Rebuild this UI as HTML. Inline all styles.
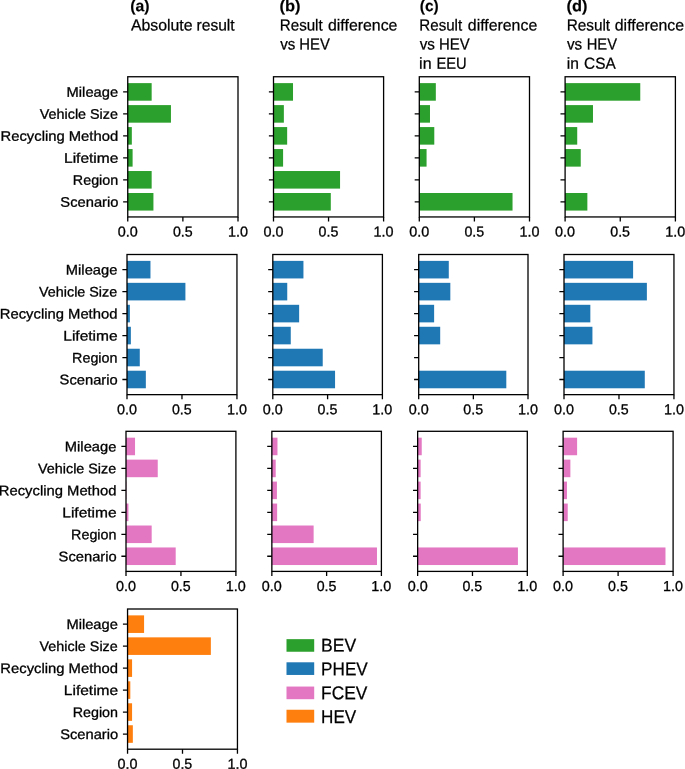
<!DOCTYPE html>
<html lang="en"><head><meta charset="utf-8"><title>Figure</title>
<style>
html,body{margin:0;padding:0;background:#fff;}
body{width:685px;height:769px;overflow:hidden;}
svg{display:block;will-change:transform;}
text{font-family:"Liberation Sans",sans-serif;fill:#000;}
.t{font-size:13.9px;stroke:#000;stroke-width:0.3px;}
.x{font-size:14.4px;}
.h{font-size:16px;stroke:#000;stroke-width:0.25px;}
.hb{font-size:16px;font-weight:bold;stroke:#000;stroke-width:0.15px;}
.lg{font-size:18.5px;stroke:#000;stroke-width:0.25px;}
</style></head><body>
<svg width="685" height="769" viewBox="0 0 685 769">
<g>
<rect x="127.75" y="83.12" width="23.91" height="17.58" fill="#2ca02c"/>
<rect x="127.75" y="105.1" width="43.2" height="17.58" fill="#2ca02c"/>
<rect x="127.75" y="127.07" width="4.08" height="17.58" fill="#2ca02c"/>
<rect x="127.75" y="149.05" width="4.85" height="17.58" fill="#2ca02c"/>
<rect x="127.75" y="171.02" width="23.91" height="17.58" fill="#2ca02c"/>
<rect x="127.75" y="193" width="25.68" height="17.58" fill="#2ca02c"/>
<path d="M123.13 91.91h4.62M123.13 113.89h4.62M123.13 135.86h4.62M123.13 157.84h4.62M123.13 179.81h4.62M123.13 201.79h4.62M127.75 216.95v4.62M182.88 216.95v4.62M238 216.95v4.62" stroke="#000" stroke-width="1.3" fill="none"/>
<rect x="127.75" y="76.75" width="110.25" height="140.2" fill="none" stroke="#000" stroke-width="1.3"/>
</g>
<g>
<rect x="273.5" y="83.12" width="19.51" height="17.58" fill="#2ca02c"/>
<rect x="273.5" y="105.1" width="10.36" height="17.58" fill="#2ca02c"/>
<rect x="273.5" y="127.07" width="13.66" height="17.58" fill="#2ca02c"/>
<rect x="273.5" y="149.05" width="9.59" height="17.58" fill="#2ca02c"/>
<rect x="273.5" y="171.02" width="66.56" height="17.58" fill="#2ca02c"/>
<rect x="273.5" y="193" width="57.3" height="17.58" fill="#2ca02c"/>
<path d="M268.88 91.91h4.62M268.88 113.89h4.62M268.88 135.86h4.62M268.88 157.84h4.62M268.88 179.81h4.62M268.88 201.79h4.62M273.5 216.95v4.62M328.55 216.95v4.62M383.6 216.95v4.62" stroke="#000" stroke-width="1.3" fill="none"/>
<rect x="273.5" y="76.75" width="110.1" height="140.2" fill="none" stroke="#000" stroke-width="1.3"/>
</g>
<g>
<rect x="419.3" y="83.12" width="16.53" height="17.58" fill="#2ca02c"/>
<rect x="419.3" y="105.1" width="10.69" height="17.58" fill="#2ca02c"/>
<rect x="419.3" y="127.07" width="14.99" height="17.58" fill="#2ca02c"/>
<rect x="419.3" y="149.05" width="7.27" height="17.58" fill="#2ca02c"/>
<rect x="419.3" y="193" width="93.23" height="17.58" fill="#2ca02c"/>
<path d="M414.68 91.91h4.62M414.68 113.89h4.62M414.68 135.86h4.62M414.68 157.84h4.62M414.68 179.81h4.62M414.68 201.79h4.62M419.3 216.95v4.62M474.4 216.95v4.62M529.5 216.95v4.62" stroke="#000" stroke-width="1.3" fill="none"/>
<rect x="419.3" y="76.75" width="110.2" height="140.2" fill="none" stroke="#000" stroke-width="1.3"/>
</g>
<g>
<rect x="565.1" y="83.12" width="75.16" height="17.58" fill="#2ca02c"/>
<rect x="565.1" y="105.1" width="27.88" height="17.58" fill="#2ca02c"/>
<rect x="565.1" y="127.07" width="12.12" height="17.58" fill="#2ca02c"/>
<rect x="565.1" y="149.05" width="15.65" height="17.58" fill="#2ca02c"/>
<rect x="565.1" y="193" width="22.26" height="17.58" fill="#2ca02c"/>
<path d="M560.48 91.91h4.62M560.48 113.89h4.62M560.48 135.86h4.62M560.48 157.84h4.62M560.48 179.81h4.62M560.48 201.79h4.62M565.1 216.95v4.62M620.25 216.95v4.62M675.4 216.95v4.62" stroke="#000" stroke-width="1.3" fill="none"/>
<rect x="565.1" y="76.75" width="110.3" height="140.2" fill="none" stroke="#000" stroke-width="1.3"/>
</g>
<g>
<rect x="127" y="260.87" width="23.47" height="17.57" fill="#1f77b4"/>
<rect x="127" y="282.84" width="58.41" height="17.57" fill="#1f77b4"/>
<rect x="127" y="304.8" width="2.87" height="17.57" fill="#1f77b4"/>
<rect x="127" y="326.77" width="3.86" height="17.57" fill="#1f77b4"/>
<rect x="127" y="348.74" width="12.78" height="17.57" fill="#1f77b4"/>
<rect x="127" y="370.71" width="18.84" height="17.57" fill="#1f77b4"/>
<path d="M122.38 269.66h4.62M122.38 291.62h4.62M122.38 313.59h4.62M122.38 335.56h4.62M122.38 357.53h4.62M122.38 379.49h4.62M127 394.65v4.62M181.97 394.65v4.62M236.95 394.65v4.62" stroke="#000" stroke-width="1.3" fill="none"/>
<rect x="127" y="254.5" width="109.95" height="140.15" fill="none" stroke="#000" stroke-width="1.3"/>
</g>
<g>
<rect x="272.8" y="260.87" width="30.64" height="17.57" fill="#1f77b4"/>
<rect x="272.8" y="282.84" width="14.44" height="17.57" fill="#1f77b4"/>
<rect x="272.8" y="304.8" width="26.34" height="17.57" fill="#1f77b4"/>
<rect x="272.8" y="326.77" width="17.96" height="17.57" fill="#1f77b4"/>
<rect x="272.8" y="348.74" width="49.92" height="17.57" fill="#1f77b4"/>
<rect x="272.8" y="370.71" width="62.26" height="17.57" fill="#1f77b4"/>
<path d="M268.18 269.66h4.62M268.18 291.62h4.62M268.18 313.59h4.62M268.18 335.56h4.62M268.18 357.53h4.62M268.18 379.49h4.62M272.8 394.65v4.62M327.6 394.65v4.62M382.4 394.65v4.62" stroke="#000" stroke-width="1.3" fill="none"/>
<rect x="272.8" y="254.5" width="109.6" height="140.15" fill="none" stroke="#000" stroke-width="1.3"/>
</g>
<g>
<rect x="418.7" y="260.87" width="30.08" height="17.57" fill="#1f77b4"/>
<rect x="418.7" y="282.84" width="31.63" height="17.57" fill="#1f77b4"/>
<rect x="418.7" y="304.8" width="15.43" height="17.57" fill="#1f77b4"/>
<rect x="418.7" y="326.77" width="21.49" height="17.57" fill="#1f77b4"/>
<rect x="418.7" y="370.71" width="87.61" height="17.57" fill="#1f77b4"/>
<path d="M414.08 269.66h4.62M414.08 291.62h4.62M414.08 313.59h4.62M414.08 335.56h4.62M414.08 357.53h4.62M414.08 379.49h4.62M418.7 394.65v4.62M473.35 394.65v4.62M528 394.65v4.62" stroke="#000" stroke-width="1.3" fill="none"/>
<rect x="418.7" y="254.5" width="109.3" height="140.15" fill="none" stroke="#000" stroke-width="1.3"/>
</g>
<g>
<rect x="564" y="260.87" width="69.1" height="17.57" fill="#1f77b4"/>
<rect x="564" y="282.84" width="82.87" height="17.57" fill="#1f77b4"/>
<rect x="564" y="304.8" width="26.34" height="17.57" fill="#1f77b4"/>
<rect x="564" y="326.77" width="28.43" height="17.57" fill="#1f77b4"/>
<rect x="564" y="370.71" width="80.78" height="17.57" fill="#1f77b4"/>
<path d="M559.38 269.66h4.62M559.38 291.62h4.62M559.38 313.59h4.62M559.38 335.56h4.62M559.38 357.53h4.62M559.38 379.49h4.62M564 394.65v4.62M618.98 394.65v4.62M673.95 394.65v4.62" stroke="#000" stroke-width="1.3" fill="none"/>
<rect x="564" y="254.5" width="109.95" height="140.15" fill="none" stroke="#000" stroke-width="1.3"/>
</g>
<g>
<rect x="126" y="437.67" width="9.04" height="17.57" fill="#e377c2"/>
<rect x="126" y="459.63" width="31.74" height="17.57" fill="#e377c2"/>
<rect x="126" y="481.59" width="0.33" height="17.57" fill="#e377c2"/>
<rect x="126" y="503.55" width="2.42" height="17.57" fill="#e377c2"/>
<rect x="126" y="525.51" width="25.68" height="17.57" fill="#e377c2"/>
<rect x="126" y="547.46" width="49.7" height="17.57" fill="#e377c2"/>
<path d="M121.38 446.45h4.62M121.38 468.41h4.62M121.38 490.37h4.62M121.38 512.33h4.62M121.38 534.29h4.62M121.38 556.25h4.62M126 571.4v4.62M180.95 571.4v4.62M235.9 571.4v4.62" stroke="#000" stroke-width="1.3" fill="none"/>
<rect x="126" y="431.3" width="109.9" height="140.1" fill="none" stroke="#000" stroke-width="1.3"/>
</g>
<g>
<rect x="271.85" y="437.67" width="5.62" height="17.57" fill="#e377c2"/>
<rect x="271.85" y="459.63" width="3.86" height="17.57" fill="#e377c2"/>
<rect x="271.85" y="481.59" width="5.07" height="17.57" fill="#e377c2"/>
<rect x="271.85" y="503.55" width="5.29" height="17.57" fill="#e377c2"/>
<rect x="271.85" y="525.51" width="41.77" height="17.57" fill="#e377c2"/>
<rect x="271.85" y="547.46" width="105.13" height="17.57" fill="#e377c2"/>
<path d="M267.23 446.45h4.62M267.23 468.41h4.62M267.23 490.37h4.62M267.23 512.33h4.62M267.23 534.29h4.62M267.23 556.25h4.62M271.85 571.4v4.62M326.62 571.4v4.62M381.4 571.4v4.62" stroke="#000" stroke-width="1.3" fill="none"/>
<rect x="271.85" y="431.3" width="109.55" height="140.1" fill="none" stroke="#000" stroke-width="1.3"/>
</g>
<g>
<rect x="417.65" y="437.67" width="4.08" height="17.57" fill="#e377c2"/>
<rect x="417.65" y="459.63" width="2.98" height="17.57" fill="#e377c2"/>
<rect x="417.65" y="481.59" width="2.98" height="17.57" fill="#e377c2"/>
<rect x="417.65" y="503.55" width="3.09" height="17.57" fill="#e377c2"/>
<rect x="417.65" y="547.46" width="100.28" height="17.57" fill="#e377c2"/>
<path d="M413.03 446.45h4.62M413.03 468.41h4.62M413.03 490.37h4.62M413.03 512.33h4.62M413.03 534.29h4.62M413.03 556.25h4.62M417.65 571.4v4.62M472.47 571.4v4.62M527.3 571.4v4.62" stroke="#000" stroke-width="1.3" fill="none"/>
<rect x="417.65" y="431.3" width="109.65" height="140.1" fill="none" stroke="#000" stroke-width="1.3"/>
</g>
<g>
<rect x="563.1" y="437.67" width="14" height="17.57" fill="#e377c2"/>
<rect x="563.1" y="459.63" width="7.27" height="17.57" fill="#e377c2"/>
<rect x="563.1" y="481.59" width="3.86" height="17.57" fill="#e377c2"/>
<rect x="563.1" y="503.55" width="4.63" height="17.57" fill="#e377c2"/>
<rect x="563.1" y="547.46" width="102.38" height="17.57" fill="#e377c2"/>
<path d="M558.48 446.45h4.62M558.48 468.41h4.62M558.48 490.37h4.62M558.48 512.33h4.62M558.48 534.29h4.62M558.48 556.25h4.62M563.1 571.4v4.62M618.1 571.4v4.62M673.1 571.4v4.62" stroke="#000" stroke-width="1.3" fill="none"/>
<rect x="563.1" y="431.3" width="110" height="140.1" fill="none" stroke="#000" stroke-width="1.3"/>
</g>
<g>
<rect x="127.55" y="615.37" width="16.53" height="17.58" fill="#ff7f0e"/>
<rect x="127.55" y="637.35" width="83.31" height="17.58" fill="#ff7f0e"/>
<rect x="127.55" y="659.32" width="4.52" height="17.58" fill="#ff7f0e"/>
<rect x="127.55" y="681.3" width="2.76" height="17.58" fill="#ff7f0e"/>
<rect x="127.55" y="703.27" width="4.52" height="17.58" fill="#ff7f0e"/>
<rect x="127.55" y="725.25" width="5.29" height="17.58" fill="#ff7f0e"/>
<path d="M122.93 624.16h4.62M122.93 646.14h4.62M122.93 668.11h4.62M122.93 690.09h4.62M122.93 712.06h4.62M122.93 734.04h4.62M127.55 749.2v4.62M182.5 749.2v4.62M237.45 749.2v4.62" stroke="#000" stroke-width="1.3" fill="none"/>
<rect x="127.55" y="609" width="109.9" height="140.2" fill="none" stroke="#000" stroke-width="1.3"/>
</g>
<rect x="286.5" y="639.15" width="27.7" height="12.6" fill="#2ca02c"/>
<rect x="286.5" y="662.3" width="27.7" height="12.65" fill="#1f77b4"/>
<rect x="286.5" y="686.55" width="27.7" height="12.65" fill="#e377c2"/>
<rect x="286.5" y="709.75" width="27.7" height="12.9" fill="#ff7f0e"/>
<text class="hb" x="130.24" y="11.2" transform="rotate(0.05 130.24 11.2)" textLength="19.36" lengthAdjust="spacingAndGlyphs">(a)</text>
<text class="h" x="130.91" y="30.5" transform="rotate(0.05 130.91 30.5)" textLength="61.67" lengthAdjust="spacingAndGlyphs">Absolute</text>
<text class="h" x="196.53" y="30.5" transform="rotate(0.05 196.53 30.5)" textLength="38.12" lengthAdjust="spacingAndGlyphs">result</text>
<text class="hb" x="279.51" y="11.2" transform="rotate(0.05 279.51 11.2)" textLength="21.03" lengthAdjust="spacingAndGlyphs">(b)</text>
<text class="h" x="279.81" y="30.5" transform="rotate(0.05 279.81 30.5)" textLength="42.89" lengthAdjust="spacingAndGlyphs">Result</text>
<text class="h" x="328.02" y="30.5" transform="rotate(0.05 328.02 30.5)" textLength="69.4" lengthAdjust="spacingAndGlyphs">difference</text>
<text class="h" x="280.18" y="49.55" transform="rotate(0.05 280.18 49.55)" textLength="15.11" lengthAdjust="spacingAndGlyphs">vs</text>
<text class="h" x="299.33" y="49.55" transform="rotate(0.05 299.33 49.55)" textLength="30.57" lengthAdjust="spacingAndGlyphs">HEV</text>
<text class="hb" x="419.76" y="11.2" transform="rotate(0.05 419.76 11.2)" textLength="18.92" lengthAdjust="spacingAndGlyphs">(c)</text>
<text class="h" x="419.31" y="30.5" transform="rotate(0.05 419.31 30.5)" textLength="42.89" lengthAdjust="spacingAndGlyphs">Result</text>
<text class="h" x="467.82" y="30.5" transform="rotate(0.05 467.82 30.5)" textLength="69.4" lengthAdjust="spacingAndGlyphs">difference</text>
<text class="h" x="419.68" y="49.55" transform="rotate(0.05 419.68 49.55)" textLength="15.21" lengthAdjust="spacingAndGlyphs">vs</text>
<text class="h" x="439.02" y="49.55" transform="rotate(0.05 439.02 49.55)" textLength="30.67" lengthAdjust="spacingAndGlyphs">HEV</text>
<text class="h" x="419.1" y="68.75" transform="rotate(0.05 419.1 68.75)">in</text>
<text class="h" x="436.45" y="68.75" transform="rotate(0.05 436.45 68.75)" textLength="30.21" lengthAdjust="spacingAndGlyphs">EEU</text>
<text class="hb" x="566.52" y="11.2" transform="rotate(0.05 566.52 11.2)" textLength="20.92" lengthAdjust="spacingAndGlyphs">(d)</text>
<text class="h" x="566.69" y="30.5" transform="rotate(0.05 566.69 30.5)" textLength="43.4" lengthAdjust="spacingAndGlyphs">Result</text>
<text class="h" x="614.82" y="30.5" transform="rotate(0.05 614.82 30.5)" textLength="69.3" lengthAdjust="spacingAndGlyphs">difference</text>
<text class="h" x="566.98" y="49.55" transform="rotate(0.05 566.98 49.55)" textLength="15.21" lengthAdjust="spacingAndGlyphs">vs</text>
<text class="h" x="586.74" y="49.55" transform="rotate(0.05 586.74 49.55)" textLength="30.25" lengthAdjust="spacingAndGlyphs">HEV</text>
<text class="h" x="566.83" y="68.75" transform="rotate(0.05 566.83 68.75)" textLength="12.12" lengthAdjust="spacingAndGlyphs">in</text>
<text class="h" x="584.05" y="68.75" transform="rotate(0.05 584.05 68.75)" textLength="31.64" lengthAdjust="spacingAndGlyphs">CSA</text>
<text class="lg" x="321.04" y="651.55" transform="rotate(0.05 321.04 651.55)" textLength="35.11" lengthAdjust="spacingAndGlyphs">BEV</text>
<text class="lg" x="321.08" y="675.3" transform="rotate(0.05 321.08 675.3)" textLength="46.67" lengthAdjust="spacingAndGlyphs">PHEV</text>
<text class="lg" x="321.06" y="699.15" transform="rotate(0.05 321.06 699.15)" textLength="46.25" lengthAdjust="spacingAndGlyphs">FCEV</text>
<text class="lg" x="321.08" y="723" transform="rotate(0.05 321.08 723)" textLength="35.18" lengthAdjust="spacingAndGlyphs">HEV</text>
<text class="t x" x="117.75" y="236.6" transform="rotate(0.05 117.75 236.6)">0.0</text>
<text class="t x" x="172.88" y="236.6" transform="rotate(0.05 172.88 236.6)" textLength="19.75" lengthAdjust="spacingAndGlyphs">0.5</text>
<text class="t x" x="227.95" y="236.6" transform="rotate(0.05 227.95 236.6)">1.0</text>
<text class="t" x="66.63" y="96.81" transform="rotate(0.05 66.63 96.81)" textLength="51.44" lengthAdjust="spacingAndGlyphs">Mileage</text>
<text class="t" x="39.79" y="118.79" transform="rotate(0.05 39.79 118.79)" textLength="78.2" lengthAdjust="spacingAndGlyphs">Vehicle Size</text>
<text class="t" x="0.52" y="140.76" transform="rotate(0.05 0.52 140.76)" textLength="117.63" lengthAdjust="spacingAndGlyphs">Recycling Method</text>
<text class="t" x="64.01" y="162.74" transform="rotate(0.05 64.01 162.74)" textLength="54.38" lengthAdjust="spacingAndGlyphs">Lifetime</text>
<text class="t" x="72.86" y="184.71" transform="rotate(0.05 72.86 184.71)" textLength="45.38" lengthAdjust="spacingAndGlyphs">Region</text>
<text class="t" x="60.38" y="206.69" transform="rotate(0.05 60.38 206.69)" textLength="58.04" lengthAdjust="spacingAndGlyphs">Scenario</text>
<text class="t x" x="263.5" y="236.6" transform="rotate(0.05 263.5 236.6)">0.0</text>
<text class="t x" x="318.56" y="236.6" transform="rotate(0.05 318.56 236.6)" textLength="19.75" lengthAdjust="spacingAndGlyphs">0.5</text>
<text class="t x" x="373.55" y="236.6" transform="rotate(0.05 373.55 236.6)">1.0</text>
<text class="t x" x="409.3" y="236.6" transform="rotate(0.05 409.3 236.6)">0.0</text>
<text class="t x" x="464.41" y="236.6" transform="rotate(0.05 464.41 236.6)" textLength="19.75" lengthAdjust="spacingAndGlyphs">0.5</text>
<text class="t x" x="519.45" y="236.6" transform="rotate(0.05 519.45 236.6)">1.0</text>
<text class="t x" x="555.1" y="236.6" transform="rotate(0.05 555.1 236.6)">0.0</text>
<text class="t x" x="610.26" y="236.6" transform="rotate(0.05 610.26 236.6)" textLength="19.75" lengthAdjust="spacingAndGlyphs">0.5</text>
<text class="t x" x="665.35" y="236.6" transform="rotate(0.05 665.35 236.6)">1.0</text>
<text class="t x" x="117" y="414.3" transform="rotate(0.05 117 414.3)">0.0</text>
<text class="t x" x="171.98" y="414.3" transform="rotate(0.05 171.98 414.3)" textLength="19.75" lengthAdjust="spacingAndGlyphs">0.5</text>
<text class="t x" x="226.9" y="414.3" transform="rotate(0.05 226.9 414.3)">1.0</text>
<text class="t" x="65.88" y="274.56" transform="rotate(0.05 65.88 274.56)" textLength="51.44" lengthAdjust="spacingAndGlyphs">Mileage</text>
<text class="t" x="39.04" y="296.52" transform="rotate(0.05 39.04 296.52)" textLength="78.2" lengthAdjust="spacingAndGlyphs">Vehicle Size</text>
<text class="t" x="-0.23" y="318.49" transform="rotate(0.05 -0.23 318.49)" textLength="117.63" lengthAdjust="spacingAndGlyphs">Recycling Method</text>
<text class="t" x="63.26" y="340.46" transform="rotate(0.05 63.26 340.46)" textLength="54.38" lengthAdjust="spacingAndGlyphs">Lifetime</text>
<text class="t" x="72.11" y="362.43" transform="rotate(0.05 72.11 362.43)" textLength="45.38" lengthAdjust="spacingAndGlyphs">Region</text>
<text class="t" x="59.63" y="384.39" transform="rotate(0.05 59.63 384.39)" textLength="58.04" lengthAdjust="spacingAndGlyphs">Scenario</text>
<text class="t x" x="262.8" y="414.3" transform="rotate(0.05 262.8 414.3)">0.0</text>
<text class="t x" x="317.61" y="414.3" transform="rotate(0.05 317.61 414.3)" textLength="19.75" lengthAdjust="spacingAndGlyphs">0.5</text>
<text class="t x" x="372.35" y="414.3" transform="rotate(0.05 372.35 414.3)">1.0</text>
<text class="t x" x="408.7" y="414.3" transform="rotate(0.05 408.7 414.3)">0.0</text>
<text class="t x" x="463.36" y="414.3" transform="rotate(0.05 463.36 414.3)" textLength="19.75" lengthAdjust="spacingAndGlyphs">0.5</text>
<text class="t x" x="517.95" y="414.3" transform="rotate(0.05 517.95 414.3)">1.0</text>
<text class="t x" x="554" y="414.3" transform="rotate(0.05 554 414.3)">0.0</text>
<text class="t x" x="608.98" y="414.3" transform="rotate(0.05 608.98 414.3)" textLength="19.75" lengthAdjust="spacingAndGlyphs">0.5</text>
<text class="t x" x="663.9" y="414.3" transform="rotate(0.05 663.9 414.3)">1.0</text>
<text class="t x" x="116" y="591.05" transform="rotate(0.05 116 591.05)">0.0</text>
<text class="t x" x="170.96" y="591.05" transform="rotate(0.05 170.96 591.05)" textLength="19.75" lengthAdjust="spacingAndGlyphs">0.5</text>
<text class="t x" x="225.85" y="591.05" transform="rotate(0.05 225.85 591.05)">1.0</text>
<text class="t" x="64.88" y="451.35" transform="rotate(0.05 64.88 451.35)" textLength="51.44" lengthAdjust="spacingAndGlyphs">Mileage</text>
<text class="t" x="38.04" y="473.31" transform="rotate(0.05 38.04 473.31)" textLength="78.2" lengthAdjust="spacingAndGlyphs">Vehicle Size</text>
<text class="t" x="-1.23" y="495.27" transform="rotate(0.05 -1.23 495.27)" textLength="117.63" lengthAdjust="spacingAndGlyphs">Recycling Method</text>
<text class="t" x="62.26" y="517.23" transform="rotate(0.05 62.26 517.23)" textLength="54.38" lengthAdjust="spacingAndGlyphs">Lifetime</text>
<text class="t" x="71.11" y="539.19" transform="rotate(0.05 71.11 539.19)" textLength="45.38" lengthAdjust="spacingAndGlyphs">Region</text>
<text class="t" x="58.63" y="561.15" transform="rotate(0.05 58.63 561.15)" textLength="58.04" lengthAdjust="spacingAndGlyphs">Scenario</text>
<text class="t x" x="261.85" y="591.05" transform="rotate(0.05 261.85 591.05)">0.0</text>
<text class="t x" x="316.63" y="591.05" transform="rotate(0.05 316.63 591.05)" textLength="19.75" lengthAdjust="spacingAndGlyphs">0.5</text>
<text class="t x" x="371.35" y="591.05" transform="rotate(0.05 371.35 591.05)">1.0</text>
<text class="t x" x="407.65" y="591.05" transform="rotate(0.05 407.65 591.05)">0.0</text>
<text class="t x" x="462.48" y="591.05" transform="rotate(0.05 462.48 591.05)" textLength="19.75" lengthAdjust="spacingAndGlyphs">0.5</text>
<text class="t x" x="517.25" y="591.05" transform="rotate(0.05 517.25 591.05)">1.0</text>
<text class="t x" x="553.1" y="591.05" transform="rotate(0.05 553.1 591.05)">0.0</text>
<text class="t x" x="608.11" y="591.05" transform="rotate(0.05 608.11 591.05)" textLength="19.75" lengthAdjust="spacingAndGlyphs">0.5</text>
<text class="t x" x="663.05" y="591.05" transform="rotate(0.05 663.05 591.05)">1.0</text>
<text class="t x" x="117.55" y="768.85" transform="rotate(0.05 117.55 768.85)">0.0</text>
<text class="t x" x="172.51" y="768.85" transform="rotate(0.05 172.51 768.85)" textLength="19.75" lengthAdjust="spacingAndGlyphs">0.5</text>
<text class="t x" x="227.4" y="768.85" transform="rotate(0.05 227.4 768.85)">1.0</text>
<text class="t" x="66.43" y="629.06" transform="rotate(0.05 66.43 629.06)" textLength="51.44" lengthAdjust="spacingAndGlyphs">Mileage</text>
<text class="t" x="39.59" y="651.04" transform="rotate(0.05 39.59 651.04)" textLength="78.2" lengthAdjust="spacingAndGlyphs">Vehicle Size</text>
<text class="t" x="0.32" y="673.01" transform="rotate(0.05 0.32 673.01)" textLength="117.63" lengthAdjust="spacingAndGlyphs">Recycling Method</text>
<text class="t" x="63.81" y="694.99" transform="rotate(0.05 63.81 694.99)" textLength="54.38" lengthAdjust="spacingAndGlyphs">Lifetime</text>
<text class="t" x="72.66" y="716.96" transform="rotate(0.05 72.66 716.96)" textLength="45.38" lengthAdjust="spacingAndGlyphs">Region</text>
<text class="t" x="60.18" y="738.94" transform="rotate(0.05 60.18 738.94)" textLength="58.04" lengthAdjust="spacingAndGlyphs">Scenario</text>
</svg>
</body></html>
